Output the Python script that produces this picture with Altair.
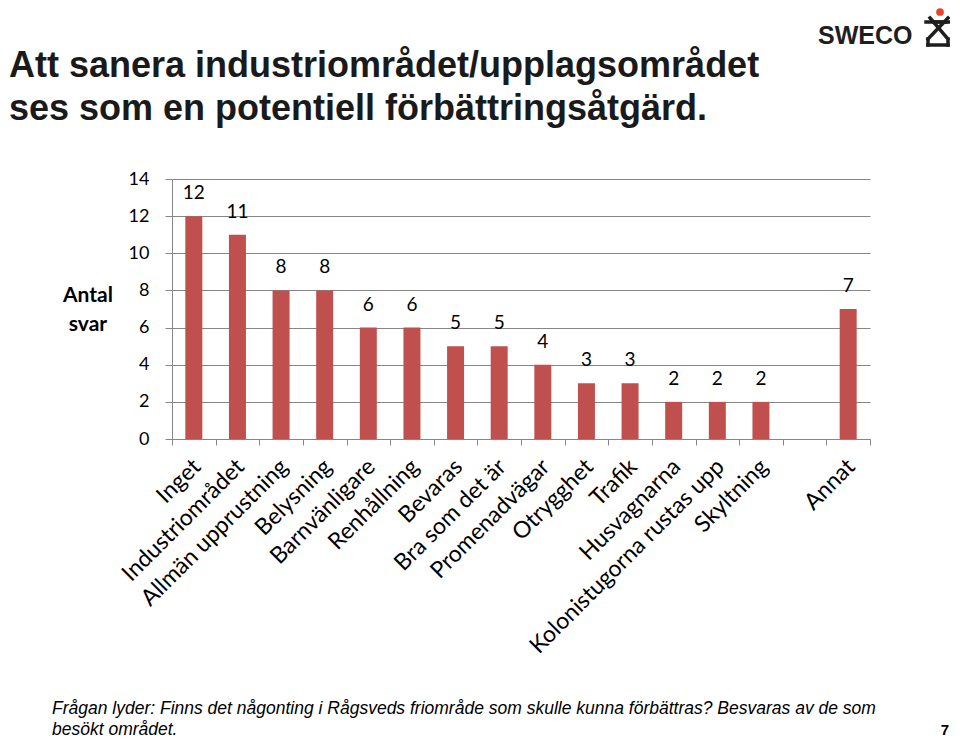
import altair as alt
import pandas as pd

kategorier = ["Inget", "Industriområdet", "Allmän upprustning", "Belysning",
              "Barnvänligare", "Renhållning", "Bevaras", "Bra som det är",
              "Promenadvägar", "Otrygghet", "Trafik", "Husvagnarna",
              "Kolonistugorna rustas upp", "Skyltning", " ", "Annat"]
antal = [12, 11, 8, 8, 6, 6, 5, 5, 4, 3, 3, 2, 2, 2, None, 7]
y_ticks = [0, 2, 4, 6, 8, 10, 12, 14]

titel_rader = ["Att sanera industriområdet/upplagsområdet",
               "ses som en potentiell förbättringsåtgärd."]
y_titel = "Antal\nsvar"
fotnot_rader = ["Frågan lyder: Finns det någonting i Rågsveds friområde som skulle kunna förbättras? Besvaras av de som",
                "besökt området."]
sidnummer = "7"
logotext = "SWECO"

df = pd.DataFrame({"kategori": kategorier, "antal": antal})

GRAY = "#868686"
BAR = "#C0504D"

x_enc = alt.X("kategori:N", sort=kategorier,
              scale=alt.Scale(paddingInner=0, paddingOuter=0),
              axis=alt.Axis(title=None, labelAngle=-45, labelFont="Lato",
                            labelFontSize=23, labelColor="black",
                            tickBand="extent", domainColor=GRAY, tickColor=GRAY,
                            tickSize=6, labelPadding=10, labelOffset=-5,
                            grid=False, labelLimit=500, labelOverlap=False))
y_enc = alt.Y("antal:Q", scale=alt.Scale(domain=[0, 14], nice=False),
              axis=alt.Axis(title=None, values=y_ticks, grid=True,
                            gridColor=GRAY, domainColor=GRAY, tickColor=GRAY,
                            tickSize=7, labelFont="Lato", labelFontSize=18,
                            labelColor="black", labelPadding=16,
                            labelOverlap=False))

base = alt.Chart(df).encode(x=x_enc, y=y_enc)
bars = base.mark_bar(color=BAR, size=17)
labels = base.transform_filter("datum.antal != null").mark_text(
    font="Lato", fontSize=19, color="black", dy=-17, baseline="alphabetic"
).encode(text="antal:Q")

one = pd.DataFrame({"t": [0]})


def txt(text, x, y, **kw):
    return alt.Chart(one).mark_text(text=text, **kw).encode(
        x=alt.value(x), y=alt.value(y))


def rule(x, y, x2, y2, **kw):
    return alt.Chart(one).mark_rule(color="#1e1e1e", strokeWidth=3.5,
                                    strokeCap="square", **kw).encode(
        x=alt.value(x), y=alt.value(y), x2=alt.value(x2), y2=alt.value(y2))


title_kw = dict(font="Liberation Sans", fontSize=36, fontWeight="bold",
                color="#1a1a1a", align="left", baseline="alphabetic")
title1 = txt(titel_rader[0], -163, -102, **title_kw)
title2 = txt(titel_rader[1], -163, -59, **title_kw)
ytitle_l = alt.Chart(one).mark_text(text=y_titel, lineBreak="\n", font="Lato",
                                    fontSize=21, fontWeight="bold", color="black",
                                    align="center", baseline="alphabetic",
                                    lineHeight=29).encode(
    x=alt.value(-84), y=alt.value(123))
foot_kw = dict(font="Liberation Sans", fontSize=17.5, fontStyle="italic",
               color="black", align="left", baseline="alphabetic")
foot1 = txt(fotnot_rader[0], -120, 535, **foot_kw)
foot2 = txt(fotnot_rader[1], -120, 556, **foot_kw)
page_l = txt(sidnummer, 777, 556, font="Liberation Sans", fontSize=15,
             fontWeight="bold", color="black", align="right",
             baseline="alphabetic")
logo_l = txt(logotext, 646, -135, font="Liberation Sans", fontSize=25,
             fontWeight="bold", color="#1e1e1e", align="left",
             baseline="alphabetic")
dot = alt.Chart(one).mark_point(filled=True, color="#E8452C", size=60,
                                opacity=1).encode(x=alt.value(768), y=alt.value(-167))
logo_rules = [
    rule(754, -157, 774, -157),
    rule(762, -157, 777, -157),
    rule(758, -161, 776, -140),
    rule(776, -161, 756, -140),
    rule(756, -140, 756, -134),
    rule(776, -140, 776, -134),
    rule(756, -134, 776, -134),
]

chart = alt.layer(bars, labels, title1, title2, ytitle_l, foot1, foot2, page_l,
                  logo_l, dot, *logo_rules).properties(
    width=698, height=260,
    padding={"left": 164, "top": 171, "right": 80, "bottom": 301},
    autosize="none",
).configure_view(stroke=None).configure_axis(domainWidth=1, gridWidth=1)

chart.save("out.html", embed_options={"renderer": "svg", "actions": False})
